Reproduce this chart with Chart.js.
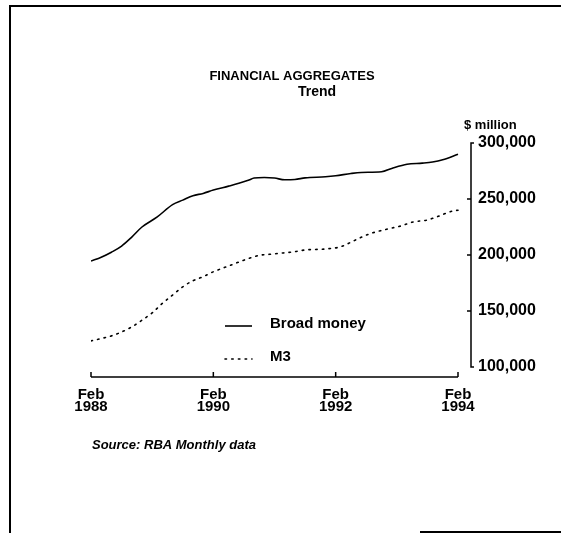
<!DOCTYPE html>
<html>
<head>
<meta charset="utf-8">
<script src="https://cdn.jsdelivr.net/npm/chart.js@4/dist/chart.umd.min.js"></script>
<style>
  html, body { margin: 0; padding: 0; background: #fff; }
  #wrap { width: 561px; height: 533px; }
</style>
</head>
<body>
<div id="wrap"><canvas id="c" width="561" height="533"></canvas></div>
<script>
// ---- Data (months since Feb 1988, values in $ million) ----
const broadMonths = [0, 2, 4, 6, 8, 10, 13, 16, 18, 20, 22, 24, 27, 29, 31, 32, 34, 36, 38, 40, 42, 46, 48, 51, 53, 57, 59, 62, 65, 67, 69, 72];
const broadValues = [194600, 198000, 202500, 208000, 216000, 225000, 234000, 245000, 249000, 253000, 255000, 258000, 261500, 264000, 267000, 268700, 269200, 268700, 267200, 267400, 268900, 269800, 270700, 272800, 273700, 274300, 277300, 281000, 282000, 283000, 285000, 290000];

const m3Months = [0, 2, 4, 6, 8, 10, 12, 14, 16, 18, 20, 22, 24, 27, 29, 31, 33, 35, 37, 40, 42, 46, 49, 51, 53, 55, 58, 61, 63, 66, 68, 71, 72];
const m3Values = [123300, 125400, 127800, 131300, 135800, 141800, 148300, 156800, 164200, 171600, 177000, 180600, 185000, 190200, 193700, 197000, 199700, 200600, 201500, 203000, 204500, 205400, 207400, 211400, 215800, 219400, 223000, 226200, 229300, 231300, 234300, 239400, 240000];

const xTickMonths = [0, 24, 48, 72];
const xTickLabels = [['Feb', '1988'], ['Feb', '1990'], ['Feb', '1992'], ['Feb', '1994']];
const yTickValues = [100000, 150000, 200000, 250000, 300000];

const seriesNames = ['Broad money', 'M3'];
const titleLines = ['FINANCIAL AGGREGATES', 'Trend'];
const unitLabel = '$ million';
const sourceText = 'Source: RBA Monthly data';

const FONT = '"Liberation Sans", Arial, Helvetica, sans-serif';

function toPoints(xs, ys) { return xs.map((x, i) => ({ x: x, y: ys[i] })); }

const decorPlugin = {
  id: 'decor',
  beforeDraw(chart) {
    const ctx = chart.ctx;
    ctx.save();
    ctx.fillStyle = '#fff';
    ctx.fillRect(0, 0, chart.width, chart.height);
    ctx.restore();
  },
  afterDraw(chart) {
    const ctx = chart.ctx;
    const xs = chart.scales.x, ys = chart.scales.y;
    ctx.save();
    ctx.strokeStyle = '#000';
    ctx.fillStyle = '#000';
    ctx.lineCap = 'butt';

    // page frame
    ctx.lineWidth = 2;
    ctx.beginPath();
    ctx.moveTo(10, 533); ctx.lineTo(10, 6); ctx.lineTo(561, 6);
    ctx.stroke();
    ctx.beginPath();
    ctx.moveTo(420, 532); ctx.lineTo(561, 532);
    ctx.stroke();

    // x axis
    const ax = 377;
    const x0 = xs.getPixelForValue(xTickMonths[0]);
    const x1 = xs.getPixelForValue(xTickMonths[xTickMonths.length - 1]);
    ctx.lineWidth = 1.5;
    ctx.beginPath();
    ctx.moveTo(x0, ax); ctx.lineTo(x1, ax);
    xTickMonths.forEach(m => {
      const px = xs.getPixelForValue(m);
      ctx.moveTo(px, ax); ctx.lineTo(px, ax - 5);
    });
    ctx.stroke();

    // y axis
    const yx = chart.chartArea.right;
    const yTop = ys.getPixelForValue(yTickValues[yTickValues.length - 1]);
    const yBot = ys.getPixelForValue(yTickValues[0]);
    ctx.beginPath();
    ctx.moveTo(yx + 3, yTop); ctx.lineTo(yx, yTop); ctx.lineTo(yx, yBot); ctx.lineTo(yx + 3, yBot);
    yTickValues.slice(1, -1).forEach(v => {
      const py = ys.getPixelForValue(v);
      ctx.moveTo(yx, py); ctx.lineTo(yx - 4, py);
    });
    ctx.stroke();

    // titles
    ctx.textBaseline = 'middle';
    ctx.textAlign = 'center';
    ctx.font = 'bold 13px ' + FONT;
    ctx.fillText(titleLines[0], 292, 76);
    ctx.font = 'bold 14px ' + FONT;
    ctx.fillText(titleLines[1], 317, 92);

    ctx.textAlign = 'left';
    ctx.font = 'bold 13px ' + FONT;
    ctx.fillText(unitLabel, 464, 125);

    ctx.font = 'italic bold 13px ' + FONT;
    ctx.fillText(sourceText, 92, 445);

    // legend
    const ds = chart.data.datasets;
    const legendY = [326, 359];
    ds.forEach((d, i) => {
      ctx.save();
      ctx.strokeStyle = d.borderColor;
      ctx.lineWidth = d.borderWidth;
      ctx.lineCap = d.borderCapStyle || 'butt';
      ctx.setLineDash(d.borderDash || []);
      ctx.beginPath();
      ctx.moveTo(225, legendY[i]); ctx.lineTo(252, legendY[i]);
      ctx.stroke();
      ctx.restore();
      ctx.font = 'bold 15px ' + FONT;
      ctx.fillText(d.label, 270, legendY[i] - 2);
    });

    ctx.restore();
  }
};

new Chart(document.getElementById('c'), {
  type: 'line',
  data: {
    datasets: [
      {
        label: seriesNames[0],
        data: toPoints(broadMonths, broadValues),
        borderColor: '#000',
        borderWidth: 1.6,
        pointRadius: 0,
        tension: 0.4,
        cubicInterpolationMode: 'monotone',
        fill: false
      },
      {
        label: seriesNames[1],
        data: toPoints(m3Months, m3Values),
        borderColor: '#000',
        borderWidth: 1.6,
        borderDash: [1.5, 5.2],
        borderCapStyle: 'round',
        pointRadius: 0,
        tension: 0.4,
        cubicInterpolationMode: 'monotone',
        fill: false
      }
    ]
  },
  options: {
    responsive: false,
    animation: false,
    events: [],
    layout: { padding: { left: 91, top: 143, right: 0, bottom: 106 } },
    plugins: {
      legend: { display: false },
      title: { display: false },
      tooltip: { enabled: false }
    },
    scales: {
      x: {
        type: 'linear',
        min: 0,
        max: 74.55,
        grid: { display: false, drawTicks: false },
        border: { display: false },
        afterFit: s => { s.height = 60; },
        afterBuildTicks: s => { s.ticks = xTickMonths.map(v => ({ value: v })); },
        ticks: {
          autoSkip: false,
          maxRotation: 0,
          padding: 21.5,
          color: '#000',
          font: { family: FONT, size: 15, weight: 'bold', lineHeight: '12.5px' },
          callback: v => xTickLabels[xTickMonths.indexOf(v)]
        }
      },
      y: {
        position: 'right',
        min: 100000,
        max: 300000,
        grid: { display: false, drawTicks: false },
        border: { display: false },
        afterFit: s => { s.width = 90; },
        afterBuildTicks: s => { s.ticks = yTickValues.map(v => ({ value: v })); },
        ticks: {
          padding: 7,
          color: '#000',
          font: { family: FONT, size: 16, weight: 'bold' },
          callback: v => v.toLocaleString('en-US')
        }
      }
    }
  },
  plugins: [decorPlugin]
});
</script>
</body>
</html>
